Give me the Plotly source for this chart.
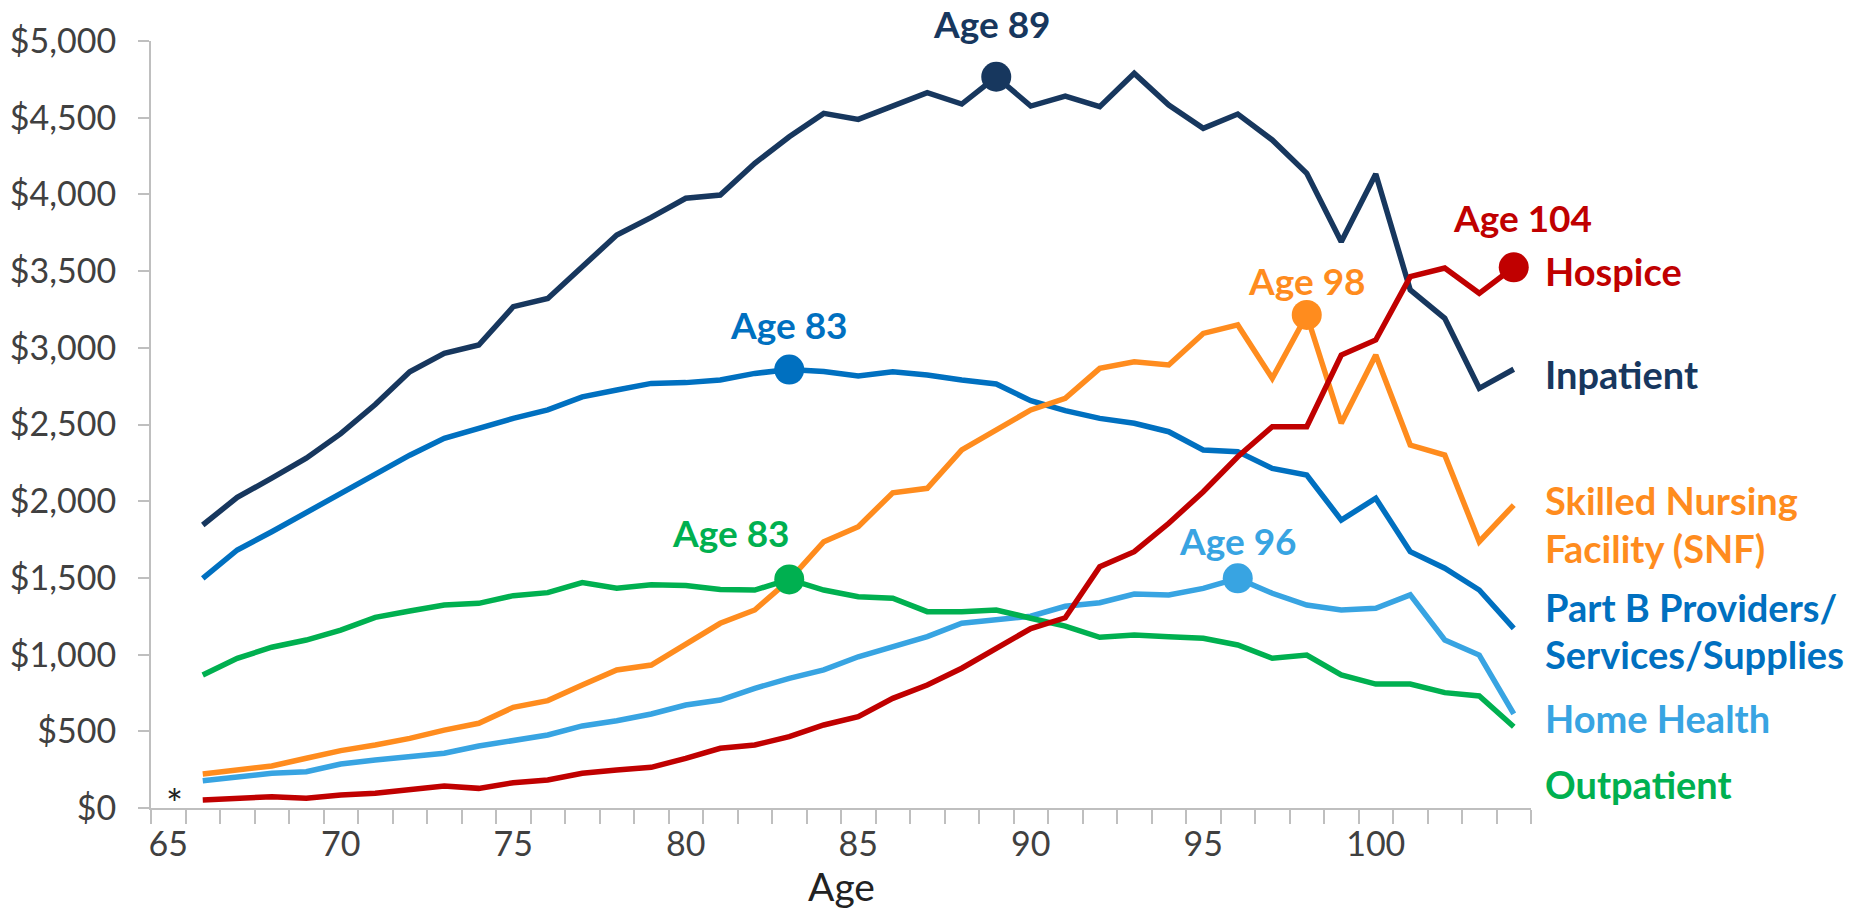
import plotly.graph_objects as go

# Average spending per person by age and type of service
ages = list(range(66, 105))

inpatient = [1845, 2025, 2150, 2280, 2440, 2630, 2844, 2964, 3018, 3268,
             3322, 3529, 3735, 3850, 3975, 3996, 4203, 4376, 4528, 4489,
             4572, 4663, 4589, 4767, 4576, 4641, 4572, 4789, 4583, 4431,
             4524, 4355, 4137, 3692, 4133, 3377, 3192, 2736, 2860]
part_b = [1497, 1682, 1801, 1925, 2055, 2180, 2300, 2410, 2475, 2540,
          2595, 2680, 2725, 2768, 2773, 2790, 2833, 2858, 2845, 2816,
          2844, 2823, 2790, 2764, 2655, 2590, 2540, 2508, 2453, 2334,
          2323, 2214, 2171, 1877, 2019, 1671, 1563, 1421, 1171]
snf = [222, 252, 274, 324, 374, 411, 454, 508, 552, 656,
       700, 802, 900, 932, 1063, 1204, 1291, 1486, 1736, 1834,
       2055, 2084, 2334, 2464, 2595, 2670, 2866, 2909, 2888, 3094,
       3149, 2801, 3214, 2508, 2953, 2366, 2301, 1736, 1975]
home_health = [178, 204, 226, 237, 287, 313, 339, 357, 404, 443,
               476, 535, 569, 613, 671, 704, 780, 845, 900, 986,
               1048, 1117, 1204, 1226, 1250, 1315, 1338, 1395, 1389, 1432,
               1497, 1400, 1323, 1291, 1302, 1389, 1095, 997, 613]
outpatient = [867, 976, 1048, 1095, 1160, 1243, 1284, 1323, 1334, 1384,
              1404, 1469, 1432, 1455, 1450, 1425, 1421, 1490, 1421, 1377,
              1367, 1280, 1280, 1291, 1237, 1186, 1113, 1128, 1117, 1106,
              1063, 976, 997, 867, 808, 808, 752, 730, 530]
hospice = [52, 63, 74, 63, 85, 96, 117, 143, 128, 165,
           183, 226, 248, 265, 324, 389, 411, 465, 541, 595,
           715, 802, 911, 1041, 1170, 1240, 1573, 1671, 1856, 2062,
           2290, 2486, 2486, 2953, 3051, 3464, 3520, 3355, 3525]

series_keys = ['inpatient', 'part_b', 'snf', 'home_health', 'outpatient', 'hospice']
series_values = [inpatient, part_b, snf, home_health, outpatient, hospice]
peak_ages = [89, 83, 98, 96, 83, 104]

x_tick_labels = [65, 70, 75, 80, 85, 90, 95, 100]
y_tick_values = list(range(0, 5001, 500))

# right-hand labels: series key, text lines, y position in $
side_labels = [
    ('hospice', ['Hospice'], [3498]),
    ('inpatient', ['Inpatient'], [2830]),
    ('snf', ['Skilled Nursing', 'Facility (SNF)'], [2005, 1697]),
    ('part_b', ['Part B Providers/', 'Services/Supplies'], [1310, 1004]),
    ('home_health', ['Home Health'], [585]),
    ('outpatient', ['Outpatient'], [157]),
]

colors = {
    'inpatient': '#17375E',
    'part_b': '#0070C0',
    'snf': '#FF8C1E',
    'home_health': '#38A4E2',
    'outpatient': '#00B050',
    'hospice': '#C00000',
}
# style tweaks for the "Age NN" labels (xshift, yshift)
peak_label_shift = [(-4, 29), (0, 21), (0, 10), (0, 13), (-58, 22), (9, 25)]

FONT = 'Lato'
TEXT_GRAY = '#404040'
AXIS_GRAY = '#BFBFBF'

fig = go.Figure()

for key, vals in zip(series_keys, series_values):
    fig.add_trace(go.Scatter(
        x=ages, y=vals, name=key, mode='lines',
        line=dict(color=colors[key], width=5.5),
        showlegend=False
    ))

# peak markers + "Age NN" labels
for key, vals, age, (dx, dy) in zip(series_keys, series_values, peak_ages, peak_label_shift):
    peak_val = vals[ages.index(age)]
    fig.add_trace(go.Scatter(
        x=[age], y=[peak_val], mode='markers',
        marker=dict(color=colors[key], size=30),
        showlegend=False, cliponaxis=False
    ))
    fig.add_annotation(
        x=age, y=peak_val, text=f'Age {age}', showarrow=False,
        xanchor='center', yanchor='bottom', xshift=dx, yshift=dy,
        font=dict(family=FONT, size=37, color=colors[key], weight='bold')
    )

# series names on the right
for key, lines, ys in side_labels:
    for txt, yv in zip(lines, ys):
        fig.add_annotation(
            xref='paper', x=1, y=yv, text=txt, showarrow=False,
            xanchor='left', yanchor='middle', xshift=12,
            font=dict(family=FONT, size=38, color=colors[key], weight='bold')
        )

# asterisk at age 65 (no data)
fig.add_annotation(
    x=65, y=0, text='*', showarrow=False, yanchor='bottom',
    xshift=6, yshift=-22,
    font=dict(family=FONT, size=40, color='#222222')
)

# x-axis title
fig.add_annotation(
    xref='paper', yref='paper', x=0.5, y=0, text='Age', showarrow=False,
    xanchor='center', yanchor='middle', yshift=-78,
    font=dict(family=FONT, size=39, color='#222222')
)

# the page body adds an 8px offset, so the margins are trimmed to keep the
# plot area at the same place in the window
fig.update_layout(
    width=1868, height=908,
    paper_bgcolor='white', plot_bgcolor='white',
    margin=dict(l=143, r=345, t=33, b=108, pad=0, autoexpand=False),
    font=dict(family=FONT, color=TEXT_GRAY),
    xaxis=dict(
        range=[64.5, 104.5], automargin=False,
        tickmode='array', tickvals=x_tick_labels,
        ticktext=[str(v) for v in x_tick_labels],
        ticks='outside', ticklen=5, tickcolor='rgba(0,0,0,0)',
        tickfont=dict(size=34, color=TEXT_GRAY),
        showline=True, linecolor=AXIS_GRAY, linewidth=2,
        showgrid=False, zeroline=False,
        minor=dict(ticks='outside', tick0=64.5, dtick=1, ticklen=14,
                   tickcolor=AXIS_GRAY, tickwidth=2, showgrid=False)
    ),
    yaxis=dict(
        range=[0, 5000], automargin=False,
        tickmode='array', tickvals=y_tick_values,
        ticktext=[f'${v:,}' for v in y_tick_values],
        ticks='outside', ticklen=11, tickwidth=2, tickcolor=AXIS_GRAY,
        ticklabelstandoff=15,
        tickfont=dict(size=34, color=TEXT_GRAY),
        showline=True, linecolor=AXIS_GRAY, linewidth=2,
        showgrid=False, zeroline=False
    )
)

fig.write_html('out.html')
